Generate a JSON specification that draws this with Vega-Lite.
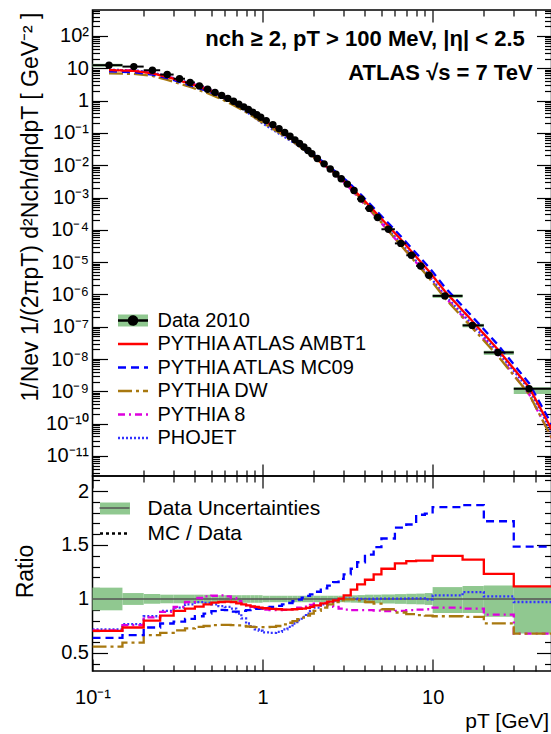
{
"$schema": "https://vega.github.io/schema/vega-lite/v6.json",
"autosize": {"type": "pad"},
"padding": {"left": 13.5, "top": 0, "right": 0, "bottom": 0},
"bounds": "flush",
"spacing": 0,
"config": {
  "font": "Liberation Sans",
  "view": {"stroke": "black", "strokeWidth": 1.5},
  "axis": {"domain": false, "grid": false, "tickColor": "black", "tickWidth": 1.2, "labelColor": "black", "titleColor": "black", "labelFont": "Liberation Sans", "labelFontSize": 20, "titleFont": "Liberation Sans", "titleFontWeight": "normal", "titleFontSize": 21, "labelOverlap": false, "labelFlush": false},
  "legend": {"labelFont": "Liberation Sans", "labelColor": "black", "padding": 0, "labelLimit": 0}
},
"datasets": {
  "data": [
    {"lo":0.1,"hi":0.15,"pt":0.125,"val":12.5,"rlo":0.895,"rhi":1.105},
    {"lo":0.15,"hi":0.2,"pt":0.175,"val":11.3,"rlo":0.945,"rhi":1.055},
    {"lo":0.2,"hi":0.25,"pt":0.225,"val":8.7,"rlo":0.955,"rhi":1.045},
    {"lo":0.25,"hi":0.3,"pt":0.275,"val":6.4,"rlo":0.96,"rhi":1.04},
    {"lo":0.3,"hi":0.35,"pt":0.325,"val":4.75,"rlo":0.96,"rhi":1.04},
    {"lo":0.35,"hi":0.4,"pt":0.375,"val":3.65,"rlo":0.96,"rhi":1.04},
    {"lo":0.4,"hi":0.45,"pt":0.425,"val":2.85,"rlo":0.96,"rhi":1.04},
    {"lo":0.45,"hi":0.5,"pt":0.475,"val":2.25,"rlo":0.96,"rhi":1.04},
    {"lo":0.5,"hi":0.55,"pt":0.525,"val":1.8,"rlo":0.965,"rhi":1.035},
    {"lo":0.55,"hi":0.6,"pt":0.575,"val":1.45,"rlo":0.965,"rhi":1.035},
    {"lo":0.6,"hi":0.65,"pt":0.625,"val":1.17,"rlo":0.965,"rhi":1.035},
    {"lo":0.65,"hi":0.7,"pt":0.675,"val":0.95,"rlo":0.965,"rhi":1.035},
    {"lo":0.7,"hi":0.75,"pt":0.725,"val":0.78,"rlo":0.965,"rhi":1.035},
    {"lo":0.75,"hi":0.8,"pt":0.775,"val":0.64,"rlo":0.965,"rhi":1.035},
    {"lo":0.8,"hi":0.85,"pt":0.825,"val":0.53,"rlo":0.965,"rhi":1.035},
    {"lo":0.85,"hi":0.9,"pt":0.875,"val":0.44,"rlo":0.965,"rhi":1.035},
    {"lo":0.9,"hi":0.95,"pt":0.925,"val":0.365,"rlo":0.965,"rhi":1.035},
    {"lo":0.95,"hi":1.0,"pt":0.975,"val":0.305,"rlo":0.965,"rhi":1.035},
    {"lo":1.0,"hi":1.1,"pt":1.05,"val":0.24,"rlo":0.97,"rhi":1.03},
    {"lo":1.1,"hi":1.2,"pt":1.15,"val":0.18,"rlo":0.97,"rhi":1.03},
    {"lo":1.2,"hi":1.3,"pt":1.25,"val":0.136,"rlo":0.97,"rhi":1.03},
    {"lo":1.3,"hi":1.4,"pt":1.35,"val":0.103,"rlo":0.97,"rhi":1.03},
    {"lo":1.4,"hi":1.5,"pt":1.45,"val":0.079,"rlo":0.97,"rhi":1.03},
    {"lo":1.5,"hi":1.6,"pt":1.55,"val":0.061,"rlo":0.97,"rhi":1.03},
    {"lo":1.6,"hi":1.7,"pt":1.65,"val":0.047,"rlo":0.97,"rhi":1.03},
    {"lo":1.7,"hi":1.8,"pt":1.75,"val":0.0365,"rlo":0.97,"rhi":1.03},
    {"lo":1.8,"hi":1.9,"pt":1.85,"val":0.0285,"rlo":0.97,"rhi":1.03},
    {"lo":1.9,"hi":2.0,"pt":1.95,"val":0.0225,"rlo":0.97,"rhi":1.03},
    {"lo":2.0,"hi":2.2,"pt":2.1,"val":0.0162,"rlo":0.97,"rhi":1.03},
    {"lo":2.2,"hi":2.4,"pt":2.3,"val":0.011,"rlo":0.97,"rhi":1.03},
    {"lo":2.4,"hi":2.6,"pt":2.5,"val":0.0076,"rlo":0.97,"rhi":1.03},
    {"lo":2.6,"hi":2.8,"pt":2.7,"val":0.0053,"rlo":0.97,"rhi":1.03},
    {"lo":2.8,"hi":3.0,"pt":2.9,"val":0.0038,"rlo":0.97,"rhi":1.03},
    {"lo":3.0,"hi":3.3,"pt":3.15,"val":0.0026,"rlo":0.968,"rhi":1.032},
    {"lo":3.3,"hi":3.6,"pt":3.45,"val":0.00165,"rlo":0.966,"rhi":1.034},
    {"lo":3.6,"hi":4.0,"pt":3.8,"val":0.0009,"rlo":0.964,"rhi":1.036},
    {"lo":4.0,"hi":4.5,"pt":4.25,"val":0.00046,"rlo":0.96,"rhi":1.04},
    {"lo":4.5,"hi":5,"pt":4.75,"val":0.00024,"rlo":0.96,"rhi":1.04},
    {"lo":5,"hi":6,"pt":5.5,"val":0.000104,"rlo":0.958,"rhi":1.042},
    {"lo":6,"hi":7,"pt":6.5,"val":3.8e-5,"rlo":0.955,"rhi":1.045},
    {"lo":7,"hi":8,"pt":7.5,"val":1.63e-5,"rlo":0.952,"rhi":1.048},
    {"lo":8,"hi":9,"pt":8.5,"val":7.6e-6,"rlo":0.95,"rhi":1.05},
    {"lo":9,"hi":10,"pt":9.5,"val":3.9e-6,"rlo":0.945,"rhi":1.055},
    {"lo":10,"hi":15,"pt":11.8,"val":9e-7,"rlo":0.87,"rhi":1.11},
    {"lo":15,"hi":20,"pt":17.1,"val":1.1e-7,"rlo":0.87,"rhi":1.12},
    {"lo":20,"hi":30,"pt":24.2,"val":1.6e-8,"rlo":0.835,"rhi":1.125},
    {"lo":30,"hi":50,"pt":36.9,"val":1.2e-9,"rlo":0.68,"rhi":1.11}
  ],
  "topband": [
    {"lo":0.1,"hi":0.15,"blo":11.2,"bhi":13.8},
    {"lo":10,"hi":15,"blo":7.8e-7,"bhi":1.0e-6},
    {"lo":15,"hi":20,"blo":9.6e-8,"bhi":1.23e-7},
    {"lo":20,"hi":30,"blo":1.34e-8,"bhi":1.8e-8},
    {"lo":30,"hi":50,"blo":8.2e-10,"bhi":1.33e-9}
  ],
  "mctop": [
    {"pt":0.125,"AMBT1":8.81,"MC09":8.0,"DW":6.98,"P8":8.88,"PHOJET":8.98},
    {"pt":0.175,"AMBT1":8.32,"MC09":7.53,"DW":6.72,"P8":8.57,"PHOJET":8.67},
    {"pt":0.225,"AMBT1":6.96,"MC09":6.4,"DW":5.79,"P8":7.22,"PHOJET":7.31},
    {"pt":0.275,"AMBT1":5.41,"MC09":4.95,"DW":4.4,"P8":5.63,"PHOJET":5.7},
    {"pt":0.375,"AMBT1":3.32,"MC09":2.98,"DW":2.65,"P8":3.55,"PHOJET":3.47},
    {"pt":0.475,"AMBT1":2.14,"MC09":1.95,"DW":1.69,"P8":2.31,"PHOJET":2.17},
    {"pt":0.575,"AMBT1":1.41,"MC09":1.3,"DW":1.1,"P8":1.5,"PHOJET":1.35},
    {"pt":0.675,"AMBT1":0.923,"MC09":0.839,"DW":0.72,"P8":0.959,"PHOJET":0.865},
    {"pt":0.775,"AMBT1":0.608,"MC09":0.57,"DW":0.48,"P8":0.612,"PHOJET":0.525},
    {"pt":0.875,"AMBT1":0.41,"MC09":0.397,"DW":0.326,"P8":0.407,"PHOJET":0.326},
    {"pt":0.975,"AMBT1":0.281,"MC09":0.278,"DW":0.226,"P8":0.278,"PHOJET":0.215},
    {"pt":1.25,"AMBT1":0.123,"MC09":0.127,"DW":0.102,"P8":0.122,"PHOJET":0.0947},
    {"pt":1.55,"AMBT1":0.0552,"MC09":0.0597,"DW":0.0485,"P8":0.0556,"PHOJET":0.0472},
    {"pt":1.95,"AMBT1":0.0208,"MC09":0.0235,"DW":0.0195,"P8":0.0213,"PHOJET":0.02},
    {"pt":2.5,"AMBT1":0.00741,"MC09":0.00853,"DW":0.00722,"P8":0.00714,"PHOJET":0.00739},
    {"pt":3.15,"AMBT1":0.00269,"MC09":0.00319,"DW":0.00259,"P8":0.00235,"PHOJET":0.00261},
    {"pt":3.8,"AMBT1":0.00102,"MC09":0.00121,"DW":0.000889,"P8":0.000806,"PHOJET":0.0009},
    {"pt":4.75,"AMBT1":0.000294,"MC09":0.000355,"DW":0.00023,"P8":0.000214,"PHOJET":0.000241},
    {"pt":6.5,"AMBT1":5.05e-5,"MC09":6.31e-5,"DW":3.33e-5,"P8":3.38e-5,"PHOJET":3.81e-5},
    {"pt":9.5,"AMBT1":5.29e-6,"MC09":6.96e-6,"DW":3.3e-6,"P8":3.53e-6,"PHOJET":3.89e-6},
    {"pt":11.8,"AMBT1":1.26e-6,"MC09":1.67e-6,"DW":7.56e-7,"P8":8.28e-7,"PHOJET":9.31e-7},
    {"pt":17.1,"AMBT1":1.5e-7,"MC09":2.06e-7,"DW":9.19e-8,"P8":1.0e-7,"PHOJET":1.17e-7},
    {"pt":24.2,"AMBT1":1.97e-8,"MC09":2.75e-8,"DW":1.24e-8,"P8":1.37e-8,"PHOJET":1.64e-8},
    {"pt":36.9,"AMBT1":1.34e-9,"MC09":1.78e-9,"DW":8.16e-10,"P8":8.16e-10,"PHOJET":1.17e-9},
    {"pt":75,"AMBT1":1.3e-12,"MC09":2.0e-12,"DW":6e-13,"P8":6e-13,"PHOJET":1.0e-12}
  ],
  "ratio": [
    {"lo":0.1,"AMBT1":0.705,"MC09":0.64,"DW":0.558,"P8":0.71,"PHOJET":0.718},
    {"lo":0.15,"AMBT1":0.736,"MC09":0.666,"DW":0.595,"P8":0.758,"PHOJET":0.767},
    {"lo":0.2,"AMBT1":0.8,"MC09":0.736,"DW":0.666,"P8":0.83,"PHOJET":0.84},
    {"lo":0.25,"AMBT1":0.845,"MC09":0.773,"DW":0.687,"P8":0.88,"PHOJET":0.89},
    {"lo":0.3,"AMBT1":0.89,"MC09":0.79,"DW":0.71,"P8":0.926,"PHOJET":0.92},
    {"lo":0.35,"AMBT1":0.91,"MC09":0.816,"DW":0.727,"P8":0.972,"PHOJET":0.95},
    {"lo":0.4,"AMBT1":0.93,"MC09":0.84,"DW":0.742,"P8":1.009,"PHOJET":0.97},
    {"lo":0.45,"AMBT1":0.95,"MC09":0.865,"DW":0.75,"P8":1.025,"PHOJET":0.963},
    {"lo":0.5,"AMBT1":0.966,"MC09":0.887,"DW":0.758,"P8":1.03,"PHOJET":0.95},
    {"lo":0.55,"AMBT1":0.972,"MC09":0.899,"DW":0.76,"P8":1.034,"PHOJET":0.933},
    {"lo":0.6,"AMBT1":0.975,"MC09":0.896,"DW":0.76,"P8":1.025,"PHOJET":0.926},
    {"lo":0.65,"AMBT1":0.972,"MC09":0.883,"DW":0.758,"P8":1.009,"PHOJET":0.911},
    {"lo":0.7,"AMBT1":0.96,"MC09":0.883,"DW":0.755,"P8":0.98,"PHOJET":0.865},
    {"lo":0.75,"AMBT1":0.95,"MC09":0.89,"DW":0.75,"P8":0.957,"PHOJET":0.82},
    {"lo":0.8,"AMBT1":0.94,"MC09":0.896,"DW":0.745,"P8":0.94,"PHOJET":0.773},
    {"lo":0.85,"AMBT1":0.932,"MC09":0.902,"DW":0.742,"P8":0.926,"PHOJET":0.742},
    {"lo":0.9,"AMBT1":0.926,"MC09":0.908,"DW":0.74,"P8":0.917,"PHOJET":0.718},
    {"lo":0.95,"AMBT1":0.92,"MC09":0.911,"DW":0.74,"P8":0.911,"PHOJET":0.706},
    {"lo":1.0,"AMBT1":0.914,"MC09":0.917,"DW":0.74,"P8":0.902,"PHOJET":0.69},
    {"lo":1.1,"AMBT1":0.908,"MC09":0.926,"DW":0.742,"P8":0.896,"PHOJET":0.687},
    {"lo":1.2,"AMBT1":0.905,"MC09":0.936,"DW":0.75,"P8":0.896,"PHOJET":0.696},
    {"lo":1.3,"AMBT1":0.902,"MC09":0.95,"DW":0.764,"P8":0.899,"PHOJET":0.718},
    {"lo":1.4,"AMBT1":0.902,"MC09":0.963,"DW":0.78,"P8":0.905,"PHOJET":0.742},
    {"lo":1.5,"AMBT1":0.905,"MC09":0.979,"DW":0.795,"P8":0.911,"PHOJET":0.773},
    {"lo":1.6,"AMBT1":0.908,"MC09":0.994,"DW":0.813,"P8":0.92,"PHOJET":0.804},
    {"lo":1.7,"AMBT1":0.911,"MC09":1.012,"DW":0.828,"P8":0.93,"PHOJET":0.834},
    {"lo":1.8,"AMBT1":0.917,"MC09":1.028,"DW":0.847,"P8":0.94,"PHOJET":0.865},
    {"lo":1.9,"AMBT1":0.926,"MC09":1.043,"DW":0.865,"P8":0.945,"PHOJET":0.89},
    {"lo":2.0,"AMBT1":0.94,"MC09":1.067,"DW":0.89,"P8":0.957,"PHOJET":0.92},
    {"lo":2.2,"AMBT1":0.96,"MC09":1.098,"DW":0.92,"P8":0.963,"PHOJET":0.95},
    {"lo":2.4,"AMBT1":0.975,"MC09":1.123,"DW":0.95,"P8":0.94,"PHOJET":0.972},
    {"lo":2.6,"AMBT1":0.988,"MC09":1.156,"DW":0.972,"P8":0.926,"PHOJET":0.988},
    {"lo":2.8,"AMBT1":1.003,"MC09":1.187,"DW":0.988,"P8":0.911,"PHOJET":0.997},
    {"lo":3.0,"AMBT1":1.034,"MC09":1.227,"DW":0.997,"P8":0.902,"PHOJET":1.003},
    {"lo":3.3,"AMBT1":1.086,"MC09":1.28,"DW":0.997,"P8":0.896,"PHOJET":1.003},
    {"lo":3.6,"AMBT1":1.135,"MC09":1.34,"DW":0.988,"P8":0.896,"PHOJET":1.0},
    {"lo":4.0,"AMBT1":1.178,"MC09":1.41,"DW":0.972,"P8":0.896,"PHOJET":1.0},
    {"lo":4.5,"AMBT1":1.227,"MC09":1.48,"DW":0.957,"P8":0.893,"PHOJET":1.003},
    {"lo":5,"AMBT1":1.28,"MC09":1.56,"DW":0.905,"P8":0.887,"PHOJET":1.003},
    {"lo":6,"AMBT1":1.33,"MC09":1.66,"DW":0.875,"P8":0.89,"PHOJET":1.003},
    {"lo":7,"AMBT1":1.35,"MC09":1.69,"DW":0.86,"P8":0.896,"PHOJET":1.006},
    {"lo":8,"AMBT1":1.356,"MC09":1.78,"DW":0.85,"P8":0.902,"PHOJET":1.006},
    {"lo":9,"AMBT1":1.356,"MC09":1.79,"DW":0.845,"P8":0.905,"PHOJET":0.997},
    {"lo":10,"AMBT1":1.4,"MC09":1.85,"DW":0.84,"P8":0.92,"PHOJET":1.034},
    {"lo":15,"AMBT1":1.365,"MC09":1.87,"DW":0.835,"P8":0.911,"PHOJET":1.064},
    {"lo":20,"AMBT1":1.233,"MC09":1.72,"DW":0.775,"P8":0.856,"PHOJET":1.025},
    {"lo":30,"AMBT1":1.117,"MC09":1.485,"DW":0.68,"P8":0.68,"PHOJET":0.972},
    {"lo":50,"AMBT1":1.117,"MC09":1.485,"DW":0.68,"P8":0.68,"PHOJET":0.972}
  ]
},
"resolve": {"scale": {"color": "independent", "strokeDash": "independent", "fill": "independent", "stroke": "independent"}},
"vconcat": [
  {
    "width": 459, "height": 466,
    "layer": [
      {
        "data": {"name": "topband"},
        "mark": {"type": "rect"},
        "encoding": {
          "x": {"field": "lo", "type": "quantitative", "scale": {"type": "log", "domain": [0.1, 50], "nice": false},
                "axis": {"orient": "bottom", "labels": false, "title": null, "values": [0.1,0.2,0.3,0.4,0.5,0.6,0.7,0.8,0.9,1,2,3,4,5,6,7,8,9,10,20,30,40,50],
                         "tickSize": {"condition": {"test": "abs(log(datum.value)/LN10 - round(log(datum.value)/LN10)) < 0.001", "value": -12}, "value": -6}}},
          "x2": {"field": "hi"},
          "y": {"field": "blo", "type": "quantitative", "scale": {"type": "log", "domain": [2.39e-12, 638], "nice": false},
                "axis": {"orient": "left", "tickCount": 200, "labelPadding": 19,
                         "labelExpr": "abs(log(datum.value)/LN10 - round(log(datum.value)/LN10)) > 0.001 ? '' : (round(log(datum.value)/LN10) == 0 ? '1' : round(log(datum.value)/LN10) == 1 ? '10' : '10' + (round(log(datum.value)/LN10) < 0 ? '⁻' : '') + (abs(round(log(datum.value)/LN10)) >= 10 ? '¹' : '') + substring('⁰¹²³⁴⁵⁶⁷⁸⁹', abs(round(log(datum.value)/LN10)) % 10, abs(round(log(datum.value)/LN10)) % 10 + 1))",
                         "tickSize": {"condition": {"test": "abs(log(datum.value)/LN10 - round(log(datum.value)/LN10)) < 0.001", "value": -15}, "value": -7},
                         "title": "1/Nev 1/(2πpT) d²Nch/dηdpT [ GeV⁻² ]", "titleFontSize": 23, "titleX": -62, "titleY": 2, "titleAngle": -90, "titleAlign": "right", "titleBaseline": "middle"}},
          "y2": {"field": "bhi"},
          "fill": {"datum": "Data 2010", "scale": {"domain": ["Data 2010"], "range": ["#90c890"]},
                   "legend": {"title": null, "orient": "none", "legendX": 29, "legendY": 299, "symbolType": "M-1.5,-0.6H1.5V0.6H-1.5Z", "symbolSize": 400, "symbolStrokeWidth": 2.5, "symbolStrokeColor": "transparent", "labelExpr": "''", "labelFontSize": 20, "rowPadding": 1.5, "padding": 0}}
        }
      },
      {
        "data": {"name": "mctop"},
        "transform": [{"fold": ["PHOJET", "P8", "DW", "MC09", "AMBT1"], "as": ["series", "val"]}],
        "mark": {"type": "line", "strokeWidth": 2.3, "clip": true},
        "encoding": {
          "x": {"field": "pt", "type": "quantitative",
                "axis": {"orient": "top", "labels": false, "title": null, "values": [0.1,0.2,0.3,0.4,0.5,0.6,0.7,0.8,0.9,1,2,3,4,5,6,7,8,9,10,20,30,40,50],
                         "tickSize": {"condition": {"test": "abs(log(datum.value)/LN10 - round(log(datum.value)/LN10)) < 0.001", "value": -12}, "value": -6}}},
          "y": {"field": "val", "type": "quantitative",
                "axis": {"orient": "right", "labels": false, "title": null, "tickCount": 200,
                         "tickSize": {"condition": {"test": "abs(log(datum.value)/LN10 - round(log(datum.value)/LN10)) < 0.001", "value": -15}, "value": -7}}},
          "stroke": {"field": "series", "type": "nominal",
                     "scale": {"domain": ["Data 2010", "AMBT1", "MC09", "DW", "P8", "PHOJET"], "range": ["black", "#ff0000", "#0000ff", "#a8780f", "#dd00dd", "#3333ff"]},
                     "legend": {"title": null, "orient": "none", "legendX": 29, "legendY": 299, "symbolType": "M-1.5,0H1.5", "symbolSize": 400, "symbolStrokeWidth": 2.5, "labelFontSize": 20, "labelOffset": 13, "rowPadding": 1.5, "padding": 0,
                                "labelExpr": "datum.label == 'AMBT1' ? 'PYTHIA ATLAS AMBT1' : datum.label == 'MC09' ? 'PYTHIA ATLAS MC09' : datum.label == 'DW' ? 'PYTHIA DW' : datum.label == 'P8' ? 'PYTHIA 8' : datum.label",
                                "encode": {"symbols": {"update": {"shape": {"signal": "datum.value === 'Data 2010' ? 'M-1.5,0H1.5M0.4,0A0.4,0.4,0,1,1,-0.4,0A0.4,0.4,0,1,1,0.4,0' : 'M-1.5,0H1.5'"}, "fill": {"signal": "datum.value === 'Data 2010' ? 'black' : 'transparent'"}}}}}},
          "strokeDash": {"field": "series", "type": "nominal",
                         "scale": {"domain": ["Data 2010", "AMBT1", "MC09", "DW", "P8", "PHOJET"], "range": [[1,0],[1,0],[8,5],[14,4,3,4],[7,4,2,4],[2,2]]},
                         "legend": {"title": null, "orient": "none", "legendX": 29, "legendY": 299, "symbolType": "M-1.5,0H1.5", "symbolSize": 400, "symbolStrokeWidth": 2.5, "labelFontSize": 20, "labelOffset": 13, "rowPadding": 1.5, "padding": 0,
                                "labelExpr": "datum.label == 'AMBT1' ? 'PYTHIA ATLAS AMBT1' : datum.label == 'MC09' ? 'PYTHIA ATLAS MC09' : datum.label == 'DW' ? 'PYTHIA DW' : datum.label == 'P8' ? 'PYTHIA 8' : datum.label",
                                "encode": {"symbols": {"update": {"shape": {"signal": "datum.value === 'Data 2010' ? 'M-1.5,0H1.5M0.4,0A0.4,0.4,0,1,1,-0.4,0A0.4,0.4,0,1,1,0.4,0' : 'M-1.5,0H1.5'"}, "fill": {"signal": "datum.value === 'Data 2010' ? 'black' : 'transparent'"}}}}}}
        }
      },
      {
        "data": {"name": "data"},
        "mark": {"type": "rule", "color": "black", "strokeWidth": 2},
        "encoding": {
          "x": {"field": "lo", "type": "quantitative", "axis": null},
          "x2": {"field": "hi"},
          "y": {"field": "val", "type": "quantitative", "axis": null}
        }
      },
      {
        "data": {"name": "data"},
        "mark": {"type": "circle", "size": 55, "color": "black", "opacity": 1},
        "encoding": {
          "x": {"field": "pt", "type": "quantitative", "axis": null},
          "y": {"field": "val", "type": "quantitative", "axis": null}
        }
      },
      {
        "data": {"values": [{}]},
        "mark": {"type": "text", "align": "right", "baseline": "middle", "fontSize": 22, "fontWeight": "bold", "color": "black"},
        "encoding": {
          "x": {"datum": 34.8, "type": "quantitative", "axis": null},
          "y": {"datum": 80.7, "type": "quantitative", "axis": null},
          "text": {"value": "nch ≥ 2, pT > 100 MeV, |η| < 2.5"}
        }
      },
      {
        "data": {"values": [{}]},
        "mark": {"type": "text", "align": "right", "baseline": "middle", "fontSize": 22, "fontWeight": "bold", "color": "black"},
        "encoding": {
          "x": {"datum": 38.7, "type": "quantitative", "axis": null},
          "y": {"datum": 7.15, "type": "quantitative", "axis": null},
          "text": {"value": "ATLAS √s = 7 TeV"}
        }
      }
    ],
    "resolve": {"axis": {"x": "independent", "y": "independent"}}
  },
  {
    "width": 459, "height": 195,
    "layer": [
      {
        "data": {"name": "data"},
        "mark": {"type": "rect"},
        "encoding": {
          "x": {"field": "lo", "type": "quantitative", "scale": {"type": "log", "domain": [0.1, 50], "nice": false},
                "axis": {"orient": "bottom", "values": [0.1,0.2,0.3,0.4,0.5,0.6,0.7,0.8,0.9,1,2,3,4,5,6,7,8,9,10,20,30,40,50],
                         "labelExpr": "abs(log(datum.value)/LN10 + 1) < 0.001 ? '10⁻¹' : abs(log(datum.value)/LN10) < 0.001 ? '1' : abs(log(datum.value)/LN10 - 1) < 0.001 ? '10' : ''",
                         "labelPadding": 28, "labelBaseline": "top",
                         "tickSize": {"condition": {"test": "abs(log(datum.value)/LN10 - round(log(datum.value)/LN10)) < 0.001", "value": -12}, "value": -6},
                         "title": "pT [GeV]", "titleX": 456, "titleY": 50, "titleAlign": "right", "titleBaseline": "middle", "titleAngle": 0}},
          "x2": {"field": "hi"},
          "y": {"field": "rlo", "type": "quantitative", "scale": {"domain": [0.333, 2.139], "nice": false, "zero": false},
                "axis": {"orient": "left", "values": [0.4,0.5,0.6,0.7,0.8,0.9,1,1.1,1.2,1.3,1.4,1.5,1.6,1.7,1.8,1.9,2,2.1],
                         "labelExpr": "abs(datum.value*2 - round(datum.value*2)) < 0.001 ? format(datum.value, '~g') : ''",
                         "labelPadding": 19,
                         "tickSize": {"condition": {"test": "abs(datum.value*2 - round(datum.value*2)) < 0.001", "value": -15}, "value": -7},
                         "title": "Ratio", "titleX": -67, "titleY": 95, "titleAngle": -90, "titleAlign": "center", "titleBaseline": "middle", "titleFontSize": 23}},
          "y2": {"field": "rhi"},
          "fill": {"datum": "Data Uncertainties", "scale": {"domain": ["Data Uncertainties", "MC / Data"], "range": ["#90c890", "black"]},
                   "legend": {"title": null, "orient": "none", "legendX": 11, "legendY": 21, "symbolType": "M-1.5,-0.6H1.5V0.6H-1.5Z", "symbolSize": 400, "symbolStrokeWidth": 2.5, "labelFontSize": 21, "labelOffset": 21, "rowPadding": 2, "padding": 0,
                              "encode": {"symbols": {"update": {"shape": {"signal": "datum.value === 'MC / Data' ? 'M-1.5,0H1.5' : 'M-1.5,-0.6H1.5V0.6H-1.5Z'"}, "fill": {"signal": "datum.value === 'MC / Data' ? 'transparent' : '#90c890'"}, "stroke": {"signal": "datum.value === 'MC / Data' ? 'black' : 'transparent'"}, "strokeDash": {"signal": "datum.value === 'MC / Data' ? [3,3] : [1,0]"}, "strokeWidth": {"value": 2.5}}}}}}
        }
      },
      {
        "data": {"values": [{}]},
        "mark": {"type": "rule", "strokeWidth": 1.5},
        "encoding": {
          "y": {"datum": 1, "type": "quantitative", "axis": null},
          "stroke": {"datum": "DU", "scale": {"domain": ["DU", "MCD"], "range": ["#555555", "rgba(0,0,0,0)"]},
                     "legend": {"title": null, "orient": "none", "legendX": 11, "legendY": 21, "symbolType": "M-1.5,0H1.5", "symbolSize": 400, "symbolStrokeWidth": 2.5, "labelExpr": "''", "labelFontSize": 21, "rowPadding": 2, "padding": 0,
                                "encode": {"symbols": {"update": {"strokeWidth": {"value": 1.5}}}}}}
        }
      },
      {
        "data": {"name": "ratio"},
        "transform": [{"fold": ["PHOJET", "P8", "DW", "MC09", "AMBT1"], "as": ["series", "r"]}],
        "mark": {"type": "line", "interpolate": "step-after", "strokeWidth": 2.3, "clip": true},
        "encoding": {
          "x": {"field": "lo", "type": "quantitative",
                "axis": {"orient": "top", "labels": false, "title": null, "values": [0.1,0.2,0.3,0.4,0.5,0.6,0.7,0.8,0.9,1,2,3,4,5,6,7,8,9,10,20,30,40,50],
                         "tickSize": {"condition": {"test": "abs(log(datum.value)/LN10 - round(log(datum.value)/LN10)) < 0.001", "value": -12}, "value": -6}}},
          "y": {"field": "r", "type": "quantitative",
                "axis": {"orient": "right", "labels": false, "title": null, "values": [0.4,0.5,0.6,0.7,0.8,0.9,1,1.1,1.2,1.3,1.4,1.5,1.6,1.7,1.8,1.9,2,2.1],
                         "tickSize": {"condition": {"test": "abs(datum.value*2 - round(datum.value*2)) < 0.001", "value": -15}, "value": -7}}},
          "color": {"field": "series", "type": "nominal", "scale": {"domain": ["AMBT1", "MC09", "DW", "P8", "PHOJET"], "range": ["#ff0000", "#0000ff", "#a8780f", "#dd00dd", "#3333ff"]}, "legend": null},
          "strokeDash": {"field": "series", "type": "nominal", "scale": {"domain": ["AMBT1", "MC09", "DW", "P8", "PHOJET"], "range": [[1,0],[8,5],[14,4,3,4],[7,4,2,4],[2,2]]}, "legend": null}
        }
      }
    ],
    "resolve": {"axis": {"x": "independent", "y": "independent"}}
  }
]
}
